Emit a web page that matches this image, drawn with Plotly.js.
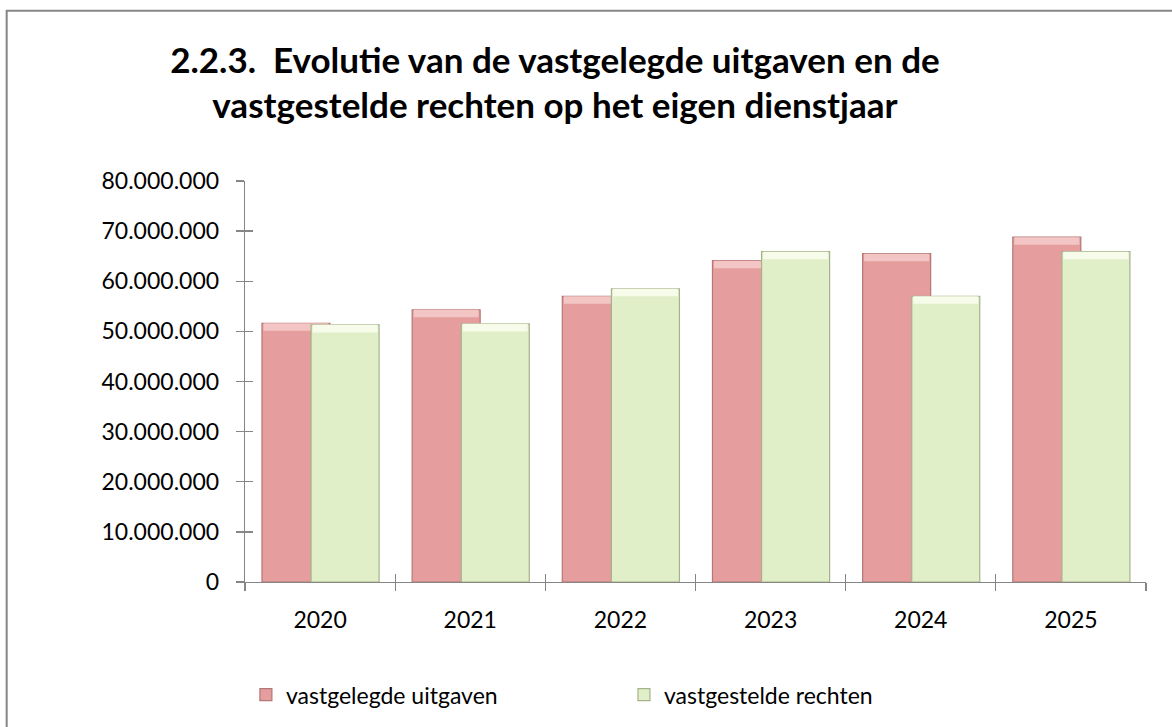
<!DOCTYPE html>
<html>
<head>
<meta charset="utf-8">
<script src="https://cdn.plot.ly/plotly-3.0.1.min.js"></script>
<style>
html,body{margin:0;padding:0;background:#fff;}
#chart{width:1172px;height:727px;}
</style>
</head>
<body>
<div id="chart"></div>
<script>
const years = ["2020","2021","2022","2023","2024","2025"];
const uitgaven = [51600000, 54300000, 57000000, 64100000, 65500000, 68800000];
const rechten  = [51300000, 51500000, 58500000, 65900000, 57000000, 65900000];
const seriesNames = ["vastgelegde uitgaven", "vastgestelde rechten"];
const yTicks = [0,10000000,20000000,30000000,40000000,50000000,60000000,70000000,80000000];

const FONT = "Lato, 'Open Sans', sans-serif";
const BAND = 1500000; // height of the light bevel band on top of each bar (style)
const W = 0.453, OFF_R = -0.387, OFF_G = -0.06;

function band(vals) { return vals.map(() => BAND); }
function bandBase(vals) { return vals.map(v => v - BAND); }

const traces = [
  {
    type: "bar", x: years, y: uitgaven, name: seriesNames[0], legend: "legend",
    width: W, offset: OFF_R,
    marker: {color: "#E59E9D", line: {color: "#B27877", width: 1.2}},
    hoverinfo: "x+y"
  },
  {
    type: "bar", x: years, y: band(uitgaven), base: bandBase(uitgaven), showlegend: false,
    width: W - 0.02, offset: OFF_R + 0.01,
    marker: {color: "#F3C6C5", line: {width: 0}}, hoverinfo: "skip"
  },
  {
    type: "bar", x: years, y: rechten, name: seriesNames[1], legend: "legend2",
    width: W, offset: OFF_G,
    marker: {color: "#E1EFC9", line: {color: "#A6B28C", width: 1.2}},
    hoverinfo: "x+y"
  },
  {
    type: "bar", x: years, y: band(rechten), base: bandBase(rechten), showlegend: false,
    width: W - 0.02, offset: OFF_G + 0.01,
    marker: {color: "#F6FBEA", line: {width: 0}}, hoverinfo: "skip"
  },
  // empty helper trace so the overlaid tick-only axes (crossing ticks) get drawn
  {type: "scatter", x: [], y: [], xaxis: "x2", yaxis: "y2", showlegend: false, hoverinfo: "skip"}
];

const legendFont = {family: FONT, size: 23, color: "#000"};

const layout = {
  width: 1172, height: 727,
  margin: {l: 245, r: 26, t: 181, b: 144},
  paper_bgcolor: "#fff", plot_bgcolor: "#fff",
  separators: ",.",
  font: {family: FONT, size: 23, color: "#000"},
  title: {
    text: "<b>2.2.3.  Evolutie van de vastgelegde uitgaven en de<br>vastgestelde rechten op het eigen dienstjaar</b>",
    font: {family: FONT, size: 35, color: "#000"},
    x: 0.4735, xanchor: "center", xref: "container",
    y: 0.8996, yanchor: "top", yref: "container"
  },
  barmode: "overlay",
  showlegend: true,
  legend: {
    orientation: "h", x: 0.001, xanchor: "left", y: -0.278, yanchor: "middle",
    font: legendFont, bgcolor: "rgba(0,0,0,0)"
  },
  legend2: {
    orientation: "h", x: 0.4206, xanchor: "left", y: -0.278, yanchor: "middle",
    font: legendFont, bgcolor: "rgba(0,0,0,0)"
  },
  xaxis: {
    type: "category", categoryarray: years, range: [-0.5, 5.5],
    showline: true, linecolor: "#868686", linewidth: 1.3,
    ticks: "outside", ticklen: 8, tickcolor: "#868686", tickwidth: 1.3,
    tickson: "boundaries", showgrid: false, zeroline: false,
    tickfont: {family: FONT, size: 23, color: "#000"}, ticklabelstandoff: 17
  },
  yaxis: {
    range: [0, 80000000], tickvals: yTicks, tickformat: ",d",
    showline: true, linecolor: "#868686", linewidth: 1.3,
    ticks: "outside", ticklen: 8, tickcolor: "#868686", tickwidth: 1.3,
    showgrid: false, zeroline: false,
    tickfont: {family: FONT, size: 23, color: "#000"}, ticklabelstandoff: 12
  },
  xaxis2: {
    type: "category", categoryarray: years, range: [-0.5, 5.5],
    overlaying: "x", anchor: "y2", side: "bottom", showline: false,
    ticks: "inside", ticklen: 8, tickcolor: "#868686", tickwidth: 1.3,
    tickson: "boundaries", showticklabels: false, showgrid: false, zeroline: false
  },
  yaxis2: {
    range: [0, 80000000], tickvals: yTicks, overlaying: "y", anchor: "x2",
    side: "left", showline: false,
    ticks: "inside", ticklen: 8, tickcolor: "#868686", tickwidth: 1.3,
    showticklabels: false, showgrid: false, zeroline: false
  },
  shapes: [
    {type: "rect", xref: "paper", yref: "paper",
     x0: -0.2645, x1: 1.2, y0: -0.5, y1: 1.4243,
     line: {color: "#868686", width: 2}, fillcolor: "rgba(0,0,0,0)", layer: "above"}
  ]
};

Plotly.newPlot("chart", traces, layout, {displayModeBar: false, staticPlot: true});
</script>
</body>
</html>
